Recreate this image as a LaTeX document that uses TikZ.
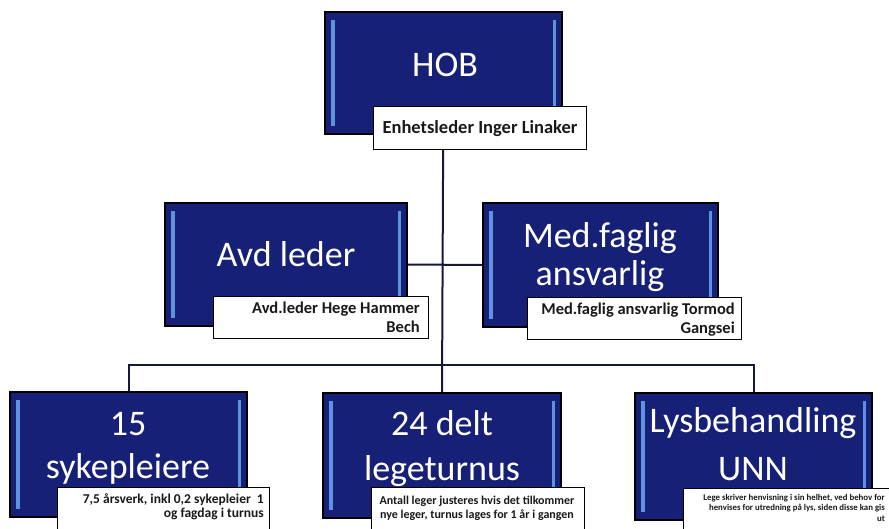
\documentclass[tikz,border=0pt]{standalone}
\usepackage{fontspec}
\setmainfont{Carlito}
\usetikzlibrary{backgrounds}
\definecolor{navy}{RGB}{22,32,118}
\definecolor{bevelc}{RGB}{95,145,225}
\definecolor{linec}{RGB}{20,24,60}
\definecolor{labc}{RGB}{25,25,25}
\tikzset{
  orgbox/.style={draw=black, line width=1.6pt, fill=navy, inner sep=0pt,
    path picture={
      \fill[bevelc] ([xshift=6pt,yshift=-8pt]path picture bounding box.north west) rectangle ([xshift=9.5pt,yshift=8pt]path picture bounding box.south west);
      \fill[bevelc] ([xshift=-6pt,yshift=-8pt]path picture bounding box.north east) rectangle ([xshift=-9.5pt,yshift=8pt]path picture bounding box.south east);
    }},
  boxtext/.style={text=white, inner sep=0pt, align=center, anchor=base},
  labbox/.style={draw=black, line width=1.4pt, fill=white, inner sep=0pt, anchor=north west},
  labtext/.style={text=labc, inner sep=0pt, anchor=base},
  conn/.style={draw=linec, line width=2pt}
}
\begin{document}
\begin{tikzpicture}[x=1pt,y=-1pt]
\useasboundingbox (0,0) rectangle (889,528);
\clip (0,0) rectangle (889,528);
% boxes
\node[orgbox, minimum width=237pt, minimum height=122pt] (hob) at (443.5,73) {};
\node[orgbox, minimum width=242pt, minimum height=123pt] (avd) at (286,264.5) {};
\node[orgbox, minimum width=235pt, minimum height=124pt] (med) at (600.5,265) {};
\node[orgbox, minimum width=237pt, minimum height=125pt] (syk) at (128.5,454.5) {};
\node[orgbox, minimum width=238pt, minimum height=125pt] (lege) at (442,455.5) {};
\node[orgbox, minimum width=237pt, minimum height=127pt] (lys) at (753.5,456.5) {};
% box texts (base = baseline of last line)
\node[boxtext, font=\fontsize{36}{42}\selectfont] (hobT) at (445,76) {HOB};
\node[boxtext, font=\fontsize{36}{42}\selectfont] (avdT) at (286,266) {Avd leder};
\node[boxtext, font=\fontsize{36}{38}\selectfont] (medT) at (600,285) {Med.faglig\\ansvarlig};
\node[boxtext, font=\fontsize{36}{43}\selectfont] (sykT) at (128,478) {15\\sykepleiere};
\node[boxtext, font=\fontsize{36}{45}\selectfont] (legeT) at (442,480) {24 delt\\legeturnus};
\node[boxtext, font=\fontsize{36}{48}\selectfont] (lysT) at (753,480) {Lysbehandling\\UNN};
% label boxes
\node[labbox, minimum width=213pt, minimum height=43pt] (hobL) at (373,106) {};
\node[labbox, minimum width=215pt, minimum height=42pt] (avdL) at (213,296) {};
\node[labbox, minimum width=214pt, minimum height=42pt] (medL) at (527,297) {};
\node[labbox, minimum width=212pt, minimum height=60pt] (sykL) at (57,487) {};
\node[labbox, minimum width=213pt, minimum height=60pt] (legeL) at (371,487) {};
\node[labbox, minimum width=213pt, minimum height=60pt] (lysL) at (683,488) {};
% label texts
\node[labtext, font=\bfseries\fontsize{18.5}{20}\selectfont] (hobLT) at (480,133) {Enhetsleder Inger Linaker};
\node[labtext, anchor=base east, align=right, font=\bfseries\fontsize{16.5}{19}\selectfont] (avdLT) at (420,332) {Avd.leder Hege Hammer\\Bech};
\node[labtext, anchor=base east, align=right, font=\bfseries\fontsize{16.5}{19}\selectfont] (medLT) at (735,333) {Med.faglig ansvarlig Tormod\\Gangsei};
\node[labtext, anchor=base east, align=right, font=\bfseries\fontsize{13.5}{13.5}\selectfont] (sykLT) at (264,517) {7,5 årsverk, inkl 0,2 sykepleier~~1\\og fagdag i turnus};
\node[labtext, align=center, font=\bfseries\fontsize{12}{14}\selectfont] (legeLT) at (477,518) {Antall leger justeres hvis det tilkommer\\nye leger, turnus lages for 1 år i gangen};
\node[labtext, anchor=base east, align=right, font=\bfseries\fontsize{8.8}{10.5}\selectfont] (lysLT) at (885,521) {Lege skriver henvisning i sin helhet, ved behov for\\henvises for utredning på lys, siden disse kan gis\\ut};
% connectors
\begin{pgfonlayer}{background}
\coordinate (bar) at (443,365);
\draw[conn] (hob.center) -- (lege.north);
\draw[conn] (avd.east) -- (med.west);
\draw[conn] (syk.north) -- (syk.north |- bar) -- (lys.north |- bar) -- (lys.north);
\end{pgfonlayer}
\end{tikzpicture}
\end{document}
